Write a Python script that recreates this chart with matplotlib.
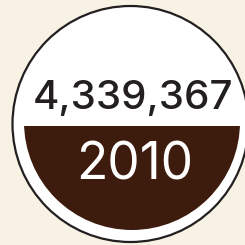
import matplotlib
matplotlib.use("Agg")
import matplotlib.pyplot as plt
from matplotlib.patches import Circle, Rectangle

value_label = "4,339,367"
year_label = "2010"

bg = "#f8f2e4"
brown = "#3d1c0e"

fig = plt.figure(figsize=(2.45, 2.45), dpi=100)
fig.patch.set_facecolor(bg)
ax = fig.add_axes([0, 0, 1, 1])
ax.set_xlim(0, 245)
ax.set_ylim(245, 0)
ax.axis("off")

# outer white disc with dark outline
ax.add_patch(Circle((130.5, 124), 118, facecolor="white", edgecolor="#231f20", linewidth=1.6))

# lower half of inner disc in brown, cut flat at the top
inner = Circle((132, 122), 108, facecolor=brown, edgecolor="none")
ax.add_patch(inner)
clip = Rectangle((0, 126), 245, 130, transform=ax.transData)
inner.set_clip_path(clip)

ax.text(133, 98.5, value_label, fontsize=29, family="Inter", color="#231f20",
        ha="center", va="center", fontweight="medium")
ax.text(134.5, 166, year_label, fontsize=37, family="Inter", color="white",
        ha="center", va="center")

fig.savefig("out.png", dpi=100, facecolor=bg)
